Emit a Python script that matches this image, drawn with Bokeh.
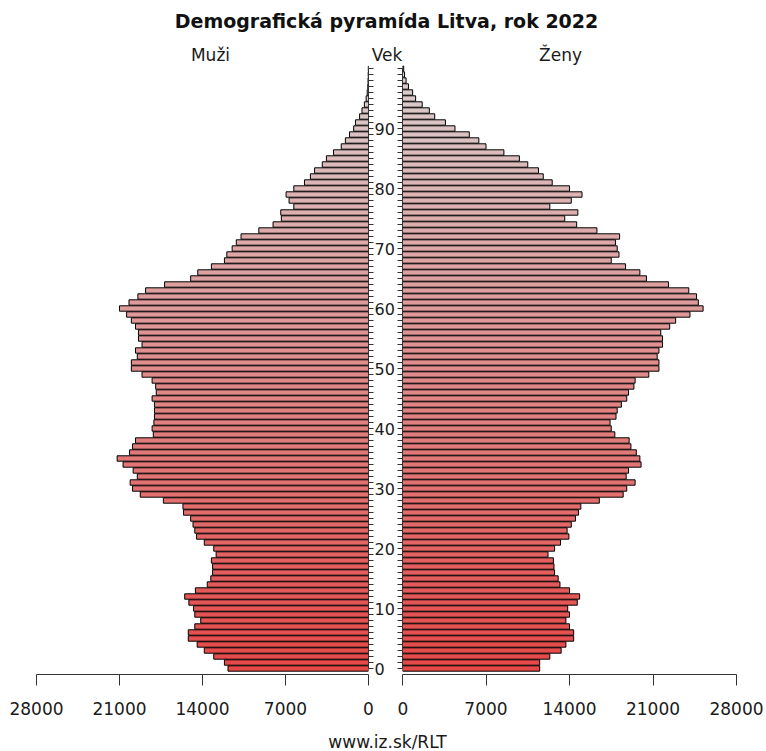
from bokeh.plotting import figure
from bokeh.layouts import column, row
from bokeh.models import Range1d, FixedTicker, ColumnDataSource
from bokeh.core.properties import value
from bokeh.embed import file_html
from bokeh.resources import INLINE

# ---------------- data ----------------
ages = list(range(0, 101))
men = [11850, 12150, 13050, 13850, 14450, 15200, 15200, 14650, 14150, 14650,
       14750, 15150, 15500, 14600, 13600, 13300, 13150, 13150, 13250, 12850,
       13050, 13850, 14500, 14650, 14800, 15000, 15600, 15650, 17300, 19250,
       19900, 20100, 19500, 19850, 20700, 21200, 20150, 19900, 19650, 18150,
       18250, 18100, 18050, 18050, 18050, 18250, 17900, 17950, 18250, 19100,
       20000, 20000, 19500, 19650, 19100, 19400, 19400, 19650, 20000, 20400,
       21000, 20200, 19450, 18800, 17200, 15000, 14400, 13250, 12150, 11950,
       11500, 11150, 10750, 9250, 8050, 7350, 7400, 6300, 6700, 6950,
       6300, 5400, 4900, 4550, 3900, 3550, 2950, 2300, 1950, 1600,
       1250, 1100, 750, 550, 350, 200, 110, 60, 40, 25, 15]
women = [11500, 11500, 12350, 13300, 13700, 14350, 14350, 14000, 13700, 14000,
         13850, 14650, 14850, 14000, 13200, 13050, 12750, 12700, 12650, 12200,
         12750, 13250, 13950, 13800, 14150, 14500, 14750, 14950, 16500, 18500,
         18800, 19500, 18750, 18950, 20000, 19900, 19600, 19150, 19000, 17800,
         17500, 17400, 17900, 18000, 18350, 18800, 18950, 19400, 19500, 20650,
         21500, 21500, 21350, 21500, 21800, 21800, 21650, 22400, 22900, 24100,
         25200, 24800, 24650, 24000, 22300, 20450, 19900, 18700, 17500, 18150,
         18000, 17850, 18200, 16300, 14600, 13600, 14700, 12350, 14150, 15050,
         14000, 12550, 11800, 11400, 10500, 9800, 8500, 7000, 6400, 5600,
         4400, 3600, 2700, 2250, 1650, 1100, 850, 500, 300, 170, 100]
x_ticks = [0, 7000, 14000, 21000, 28000]
age_ticks = list(range(0, 101))
age_tick_labels = {a: (str(a) if a % 10 == 0 and a < 100 else "") for a in age_ticks}

title_text = "Demografická pyramída Litva, rok 2022"
label_men = "Muži"
label_age = "Vek"
label_women = "Ženy"
source_text = "www.iz.sk/RLT"

# ---------------- style ----------------
FONT = "DejaVu Sans"
c0 = (230, 72, 72)
c1 = (218, 208, 208)
n = len(ages)
colors = []
for i in range(n):
    t = i / (n - 1)
    r, g, b = (round(c0[k] + (c1[k] - c0[k]) * t) for k in range(3))
    colors.append("#%02x%02x%02x" % (r, g, b))

src = ColumnDataSource(dict(age=ages, men=men, women=women, color=colors))

TOTAL_W = 766
TOTAL_H = 751
HEAD_H = 65
FRAME_H = 609
BOTTOM = 50
FOOT_H = TOTAL_H - HEAD_H - FRAME_H - BOTTOM
y_range = Range1d(-1, 100.5)


def style_common(p):
    p.grid.visible = False
    p.outline_line_color = None
    p.background_fill_color = "white"
    p.border_fill_color = "white"


def style_x_axis(ax):
    ax.ticker = FixedTicker(ticks=x_ticks)
    ax.major_tick_out = 11
    ax.major_tick_in = 0
    ax.minor_tick_out = 0
    ax.minor_tick_in = 0
    ax.axis_line_color = "#333333"
    ax.major_tick_line_color = "#333333"
    ax.major_label_text_font = FONT
    ax.major_label_text_font_size = "17px"
    ax.major_label_text_color = "#1a1a1a"
    ax.major_label_standoff = 16


def style_y_axis(ax):
    ax.ticker = FixedTicker(ticks=age_ticks)
    ax.bounds = (0, 100)
    ax.major_tick_out = 5
    ax.major_tick_in = 0
    ax.minor_tick_out = 0
    ax.minor_tick_in = 0
    ax.axis_line_color = "#333333"
    ax.major_tick_line_color = "#333333"
    ax.major_label_text_font = FONT
    ax.major_label_text_font_size = "16px"
    ax.major_label_text_color = "#1a1a1a"


# ---------------- header ----------------
header = figure(frame_width=TOTAL_W, frame_height=HEAD_H, x_range=Range1d(0, TOTAL_W),
                y_range=Range1d(0, HEAD_H), x_axis_location=None, y_axis_location=None,
                output_backend="svg", toolbar_location=None, min_border=0)
style_common(header)
header.text(x=[386], y=[45], text=[title_text], text_font=value(FONT), text_font_size="19px",
            text_font_style="bold", text_align="center", text_baseline="alphabetic", text_color="#111111")
header.text(x=[210, 386.5, 560], y=[11, 11, 11], text=[label_men, label_age, label_women],
            text_font=value(FONT), text_font_size="17px", text_align="center",
            text_baseline="alphabetic", text_color="#1a1a1a")

# ---------------- men (left) ----------------
left = figure(frame_width=332, frame_height=FRAME_H, x_range=Range1d(28000, 0), y_range=y_range,
              y_axis_location="right", output_backend="svg", toolbar_location=None,
              min_border_left=36, min_border_right=27, min_border_top=0, min_border_bottom=BOTTOM)
style_common(left)
left.hbar(y="age", left=0, right="men", height=0.9, fill_color="color", line_color="black",
          line_width=1, source=src)
style_x_axis(left.xaxis[0])
style_y_axis(left.yaxis[0])
left.yaxis[0].major_label_overrides = age_tick_labels
left.yaxis[0].major_label_standoff = 1

# ---------------- women (right) ----------------
right = figure(frame_width=334, frame_height=FRAME_H, x_range=Range1d(0, 28000), y_range=y_range,
               y_axis_location="left", output_backend="svg", toolbar_location=None,
               min_border_left=0, min_border_right=29, min_border_top=0, min_border_bottom=BOTTOM)
style_common(right)
right.hbar(y="age", left=0, right="women", height=0.9, fill_color="color", line_color="black",
           line_width=1, source=src)
style_x_axis(right.xaxis[0])
style_y_axis(right.yaxis[0])
right.yaxis[0].major_label_overrides = {a: "" for a in age_ticks}
right.yaxis[0].major_label_standoff = 0

# ---------------- footer ----------------
footer = figure(frame_width=TOTAL_W, frame_height=FOOT_H, x_range=Range1d(0, TOTAL_W),
                y_range=Range1d(0, FOOT_H), x_axis_location=None, y_axis_location=None,
                output_backend="svg", toolbar_location=None, min_border=0)
style_common(footer)
footer.text(x=[387], y=[10], text=[source_text], text_font=value(FONT), text_font_size="17px",
            text_align="center", text_baseline="alphabetic", text_color="#1a1a1a")

layout = column(header, row(left, right), footer)

open("out.html", "w").write(file_html(layout, INLINE))
